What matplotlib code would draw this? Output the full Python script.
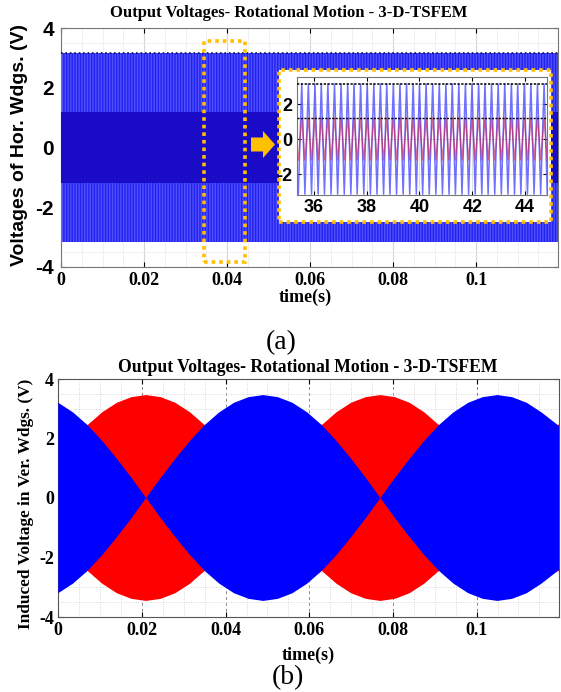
import numpy as np
import matplotlib
matplotlib.use("Agg")
import matplotlib.pyplot as plt
from matplotlib.patches import Rectangle, Polygon
from matplotlib.ticker import MultipleLocator

plt.rcParams['axes.unicode_minus'] = False

# (a) horizontal windings: envelope of the dense waveforms (constant amplitude)
top_t = [0.0, 0.1197]
top_blue_amp = [3.15, 3.15]
top_red_amp = [1.2, 1.2]

# zoomed inset (time in ms): vertex times of the triangular waves
inset_peaks = [35.54, 35.79, 36.04, 36.28, 36.53, 36.78, 37.03, 37.28, 37.52, 37.77,
               38.02, 38.27, 38.52, 38.76, 39.01, 39.26, 39.51, 39.76, 40.00, 40.25,
               40.50, 40.75, 41.00, 41.24, 41.49, 41.74, 41.99, 42.24, 42.48, 42.73,
               42.98, 43.23, 43.48, 43.72, 43.97, 44.22, 44.47, 44.72]
inset_troughs = [35.41, 35.66, 35.91, 36.16, 36.40, 36.65, 36.90, 37.15, 37.40, 37.64,
                 37.89, 38.14, 38.39, 38.64, 38.88, 39.13, 39.38, 39.63, 39.88, 40.12,
                 40.37, 40.62, 40.87, 41.12, 41.36, 41.61, 41.86, 42.11, 42.36, 42.60,
                 42.85, 43.10, 43.35, 43.60, 43.84, 44.09, 44.34, 44.59, 44.84]
inset_blue_amp = 3.15
inset_red_amp = 1.2

# (b) vertical windings: envelope amplitudes
bot_t = [0, 0.0035, 0.007, 0.0105, 0.014, 0.0175, 0.021, 0.0245, 0.028, 0.0315,
         0.035, 0.0385, 0.042, 0.0455, 0.049, 0.0525, 0.056, 0.0595, 0.063, 0.0665,
         0.07, 0.0735, 0.077, 0.0805, 0.084, 0.0875, 0.091, 0.0945, 0.098, 0.1015,
         0.105, 0.1085, 0.112, 0.1155, 0.1197]
bot_blue_amp = [3.20, 2.88, 2.45, 1.92, 1.32, 0.68, 0, 0.68, 1.32, 1.92,
                2.45, 2.88, 3.20, 3.39, 3.46, 3.39, 3.20, 2.88, 2.45, 1.92,
                1.32, 0.68, 0, 0.68, 1.32, 1.92, 2.45, 2.88, 3.20, 3.39,
                3.46, 3.39, 3.20, 2.88, 2.42]
bot_red_amp = [1.32, 1.92, 2.45, 2.88, 3.20, 3.39, 3.46, 3.39, 3.20, 2.88,
               2.45, 1.92, 1.32, 0.68, 0, 0.68, 1.32, 1.92, 2.45, 2.88,
               3.20, 3.39, 3.46, 3.39, 3.20, 2.88, 2.45, 1.92, 1.32, 0.68,
               0, 0.68, 1.32, 1.92, 2.48]

xticks = [0, 0.02, 0.04, 0.06, 0.08, 0.1]
xticklabels = ['0', '0.02', '0.04', '0.06', '0.08', '0.1']
yticks = [-4, -2, 0, 2, 4]
title = 'Output Voltages- Rotational Motion - 3-D-TSFEM'

W, H = 561, 692
SERIF = 'Liberation Serif'
SANS = 'Liberation Sans'
GOLD = '#FFC000'


def fx(x):
    return x / W


def fy(y):
    return 1 - y / H


def px(x, y):
    return (fx(x), fy(y))


fig = plt.figure(figsize=(W / 100, H / 100), dpi=100)

# ---------------- (a) ----------------
ax1 = fig.add_axes([fx(61), fy(267), fx(558) - fx(61), fy(28) - fy(267)])
t = np.array(top_t)
ab = np.array(top_blue_amp)
ar = np.array(top_red_amp)
ax1.fill_between(t, -ab, ab, facecolor='#2222ee', edgecolor='#5050ff',
                 hatch='||||||', linewidth=0, zorder=2)
ax1.fill_between(t, -ar, ar, facecolor='#1a0cc6', linewidth=0, zorder=3)
ax1.plot(t, ab, color='#101050', linestyle=':', linewidth=1.2, zorder=4)
ax1.set_xlim(0, 0.1197)
ax1.set_ylim(-4, 4)
ax1.set_xticks(xticks)
ax1.set_xticklabels(xticklabels)
ax1.set_yticks(yticks)
ax1.xaxis.set_minor_locator(MultipleLocator(0.005))
ax1.yaxis.set_minor_locator(MultipleLocator(0.5))
ax1.grid(True, which='major', color='#d6d6d6', linewidth=0.8, zorder=0)
ax1.grid(True, which='minor', color='#eeeeee', linewidth=0.6, zorder=0)
ax1.set_axisbelow(True)
ax1.tick_params(which='both', direction='in', top=True, right=True)
ax1.tick_params(which='minor', length=0)
ax1.tick_params(axis='y', pad=5)
for lab in ax1.get_yticklabels():
    lab.set_fontfamily(SANS)
    lab.set_fontweight('bold')
    lab.set_fontsize(15)
for lab in ax1.get_xticklabels():
    lab.set_fontfamily(SERIF)
    lab.set_fontweight('bold')
    lab.set_fontsize(13)
for s in ax1.spines.values():
    s.set_color('#777777')

# selection box and inset frame
ax1.add_patch(Rectangle((0.0345, -3.82), 0.0097, 7.39, fill=False, edgecolor=GOLD,
                        linestyle=(0, (1, 1.1)), linewidth=2.6, zorder=6, clip_on=False))
ax1.add_patch(Rectangle((0.0525, -2.50), 0.118 - 0.0525, 5.10, facecolor='white',
                        edgecolor=GOLD, linestyle=(0, (1, 1.1)), linewidth=2.6,
                        zorder=7, clip_on=False))
fig.patches.append(Polygon([px(251, 137.5), px(263, 137.5), px(263, 131), px(275, 144.5),
                            px(263, 158), px(263, 151.5), px(251, 151.5)],
                           closed=True, facecolor=GOLD, edgecolor='none',
                           transform=fig.transFigure))

fig.text(fx(289), fy(13), title, ha='center', va='center', family=SERIF,
         fontweight='bold', fontsize=12)
fig.text(fx(20), fy(145), 'Voltages of Hor. Wdgs. (V)', rotation=90, ha='center',
         va='center', family=SANS, fontweight='bold', fontsize=14)
fig.text(fx(305), fy(297), 'time(s)', ha='center', va='center', family=SERIF,
         fontweight='bold', fontsize=13)
fig.text(fx(281), fy(343), '(a)', ha='center', va='center', family=SERIF, fontsize=20)

# inset
axi = fig.add_axes([fx(297), fy(195), fx(547) - fx(297), fy(77) - fy(195)])
pk = np.array(inset_peaks)
tr = np.array(inset_troughs)
vt = np.concatenate([pk, tr])
order = np.argsort(vt)
vt = vt[order]
sign = np.concatenate([np.ones(len(pk)), -np.ones(len(tr))])[order]
axi.plot(vt, sign * inset_blue_amp, color='#4d4dff', linewidth=1.1, alpha=0.8, zorder=2)
axi.plot(vt, sign * inset_red_amp, color='#d0204a', linewidth=1.0, alpha=0.6, zorder=3)
axi.axhline(inset_blue_amp, color='black', linestyle=(0, (1.5, 1)), linewidth=1.1, zorder=4)
axi.axhline(inset_red_amp, color='black', linestyle=(0, (1.5, 1)), linewidth=1.0, zorder=4)
axi.set_xlim(35.36, 44.83)
axi.set_ylim(-3.2, 3.55)
axi.set_xticks([36, 38, 40, 42, 44])
axi.set_yticks([-2, 0, 2])
axi.grid(True, color='#dddddd', linewidth=0.7, zorder=0)
axi.set_axisbelow(True)
axi.tick_params(direction='in', top=True, right=True, length=3, pad=3)
for lab in axi.get_xticklabels() + axi.get_yticklabels():
    lab.set_fontfamily(SANS)
    lab.set_fontweight('bold')
    lab.set_fontsize(13)
for s in axi.spines.values():
    s.set_color('#777777')

# ---------------- (b) ----------------
ax2 = fig.add_axes([fx(58.3), fy(617), fx(559) - fx(58.3), fy(379) - fy(617)])
tb = np.array(bot_t)
bb = np.array(bot_blue_amp)
rb = np.array(bot_red_amp)
ax2.fill_between(tb, -rb, rb, facecolor='#ff0000', linewidth=0, zorder=2)
ax2.fill_between(tb, -bb, bb, facecolor='#0000ff', linewidth=0, zorder=3)
ax2.set_xlim(0, 0.1197)
ax2.set_ylim(-4, 4)
ax2.set_xticks(xticks)
ax2.set_xticklabels(xticklabels)
ax2.set_yticks(yticks)
ax2.xaxis.set_minor_locator(MultipleLocator(0.005))
ax2.yaxis.set_minor_locator(MultipleLocator(0.5))
ax2.grid(True, which='major', color='#888888', linestyle=(0, (3, 3)), linewidth=0.7)
ax2.grid(True, which='minor', color='#c8c8c8', linestyle=(0, (1, 2)), linewidth=0.6)
ax2.set_axisbelow(True)
ax2.tick_params(which='both', direction='in', top=True, right=True)
ax2.tick_params(which='minor', length=0)
ax2.tick_params(axis='y', pad=3)
for lab in ax2.get_xticklabels() + ax2.get_yticklabels():
    lab.set_fontfamily(SERIF)
    lab.set_fontweight('bold')
    lab.set_fontsize(13)
for s in ax2.spines.values():
    s.set_color('#555555')

fig.text(fx(308), fy(368), title, ha='center', va='center', family=SERIF,
         fontweight='bold', fontsize=12.7)
fig.text(fx(26), fy(504), 'Induced Voltage in Ver. Wdgs. (V)', rotation=90, ha='center',
         va='center', family=SERIF, fontweight='bold', fontsize=12.4)
fig.text(fx(308), fy(655), 'time(s)', ha='center', va='center', family=SERIF,
         fontweight='bold', fontsize=13)
fig.text(fx(288), fy(678), '(b)', ha='center', va='center', family=SERIF, fontsize=20)

fig.savefig('out.png', dpi=100)
